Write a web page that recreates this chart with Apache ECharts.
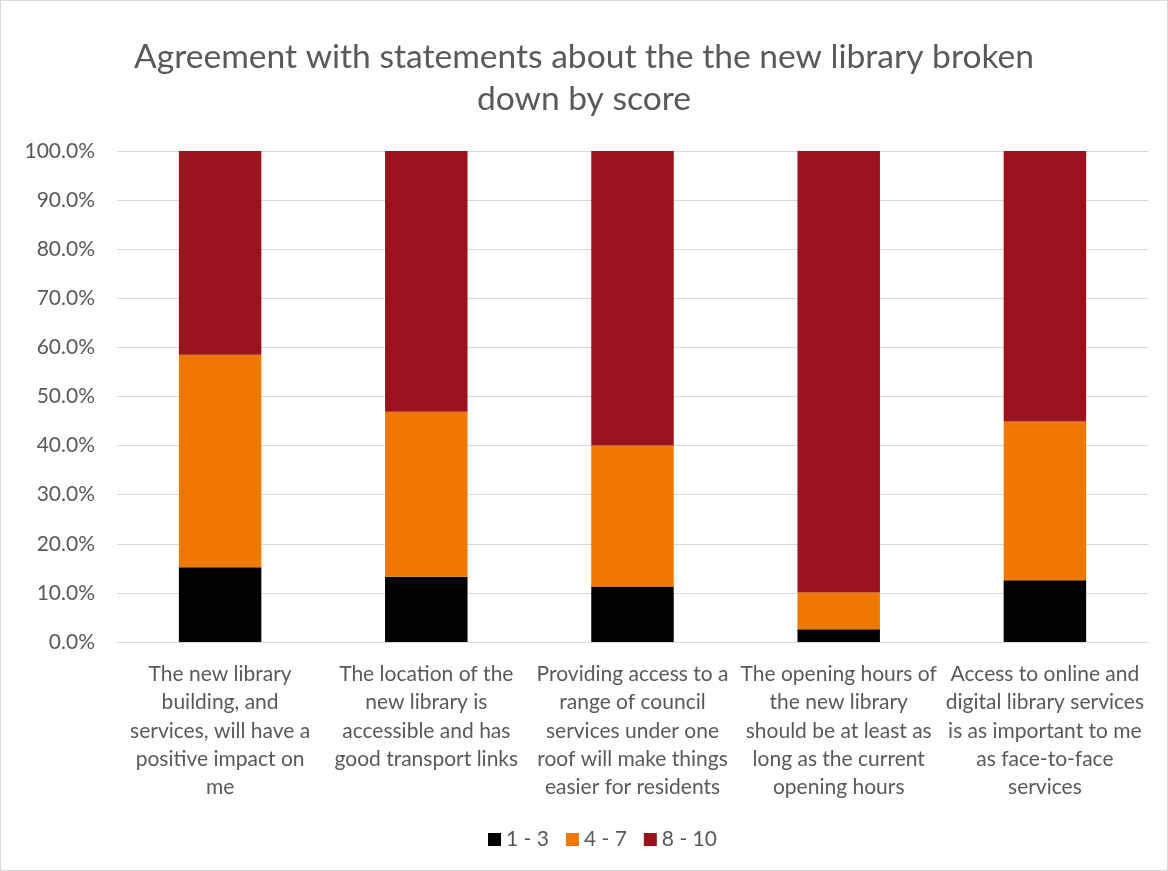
<!DOCTYPE html>
<html>
<head>
<meta charset="utf-8">
<script src="https://cdn.jsdelivr.net/npm/echarts@6/dist/echarts.min.js"></script>
<style>
  html, body { margin: 0; padding: 0; background: #fff; }
  #chart { width: 1168px; height: 871px; box-sizing: border-box; border: 1px solid #d9d9d9; }
</style>
</head>
<body>
<div id="chart"></div>
<script>
// Survey statements (x-axis categories)
const categories = [
  'The new library\nbuilding, and\nservices, will have a\npositive impact on\nme',
  'The location of the\nnew library is\naccessible and has\ngood transport links',
  'Providing access to a\nrange of council\nservices under one\nroof will make things\neasier for residents',
  'The opening hours of\nthe new library\nshould be at least as\nlong as the current\nopening hours',
  'Access to online and\ndigital library services\nis as important to me\nas face-to-face\nservices'
];

// Share of respondents per score band (%)
const score1to3 = [15.2, 13.3, 11.3, 2.6, 12.6];
const score4to7 = [43.3, 33.6, 28.7, 7.5, 32.3];
const score8to10 = [41.5, 53.1, 60.0, 89.9, 55.1];

const seriesNames = ['1 - 3', '4 - 7', '8 - 10'];
const seriesColors = ['#000000', '#EE7800', '#9B141D'];

const fontFamily = 'Lato, "Open Sans", sans-serif';
const textColor = '#595959';

const chart = echarts.init(document.getElementById('chart'));

const seriesData = [score1to3, score4to7, score8to10];

chart.setOption({
  animation: false,
  title: {
    text: 'Agreement with statements about the the new library broken\ndown by score',
    left: 'center',
    top: 30,
    textStyle: {
      fontFamily: fontFamily,
      fontSize: 33.6,
      fontWeight: 'normal',
      color: textColor,
      lineHeight: 42
    }
  },
  legend: {
    bottom: 15,
    left: 482,
    itemWidth: 13,
    itemHeight: 13,
    itemGap: 17,
    icon: 'rect',
    textStyle: { fontFamily: fontFamily, fontSize: 21, color: textColor },
    data: seriesNames
  },
  grid: { left: 116, right: 19, top: 150, bottom: 228, containLabel: false },
  xAxis: {
    type: 'category',
    data: categories,
    axisTick: { show: false },
    axisLine: { lineStyle: { color: '#d9d9d9', width: 1 } },
    axisLabel: {
      interval: 0,
      fontFamily: fontFamily,
      fontSize: 21,
      color: textColor,
      lineHeight: 28.3,
      margin: 18
    }
  },
  yAxis: {
    type: 'value',
    min: 0,
    max: 100,
    interval: 10,
    axisLine: { show: false },
    axisTick: { show: false },
    splitLine: { lineStyle: { color: '#d9d9d9', width: 1 } },
    axisLabel: {
      fontFamily: fontFamily,
      fontSize: 21,
      color: textColor,
      margin: 22,
      formatter: v => v.toFixed(1) + '%'
    }
  },
  series: seriesNames.map((name, i) => ({
    name: name,
    type: 'bar',
    stack: 'score',
    barWidth: '40%',
    itemStyle: { color: seriesColors[i] },
    data: seriesData[i]
  }))
});
</script>
</body>
</html>
